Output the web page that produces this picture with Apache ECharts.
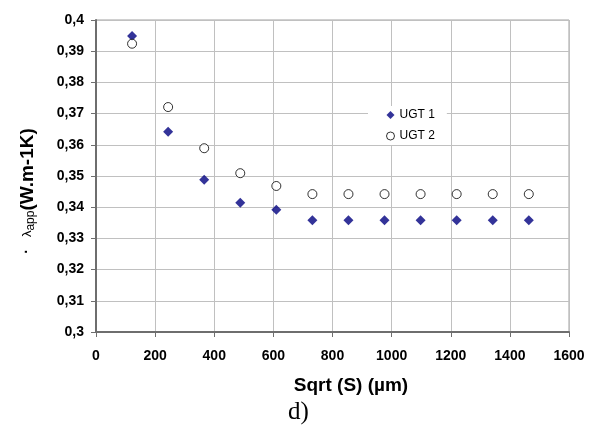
<!DOCTYPE html>
<html>
<head>
<meta charset="utf-8">
<script src="https://cdn.jsdelivr.net/npm/echarts@6/dist/echarts.min.js"></script>
<style>
html,body{margin:0;padding:0;background:#fff;}
#c{width:595px;height:427px;}
</style>
</head>
<body>
<div id="c"></div>
<script>
const sqrtS = [122, 244, 366, 488, 610, 732, 854, 976, 1098, 1220, 1342, 1464];
const ugt1 = [0.3949, 0.3642, 0.3488, 0.3414, 0.3392, 0.3358, 0.3358, 0.3358, 0.3358, 0.3358, 0.3358, 0.3358];
const ugt2 = [0.3924, 0.3721, 0.3589, 0.3509, 0.3468, 0.3442, 0.3442, 0.3442, 0.3442, 0.3442, 0.3442, 0.3442];
const seriesNames = ['UGT 1', 'UGT 2'];
const xTitle = 'Sqrt (S) (µm)';
const caption = 'd)';

const chart = echarts.init(document.getElementById('c'), null, {renderer: 'canvas'});
const font = 'Arial, "Liberation Sans", sans-serif';
chart.setOption({
  animation: false,
  backgroundColor: '#fff',
  grid: {left: 96, right: 26, top: 20, bottom: 95, show: true, borderColor: '#a0a0a0', borderWidth: 1, containLabel: false},
  legend: {
    orient: 'vertical', left: 368, top: 106,
    padding: [3, 12, 3, 18], itemGap: 9,
    backgroundColor: '#fff',
    itemWidth: 8, itemHeight: 8,
    textStyle: {fontFamily: font, fontSize: 12, color: '#000'},
    data: [
      {name: seriesNames[0]},
      {name: seriesNames[1], itemStyle: {color: '#fff', borderColor: '#000', borderWidth: 1}}
    ]
  },
  xAxis: {
    type: 'value', min: 0, max: 1600, interval: 200,
    name: xTitle, nameLocation: 'middle', nameGap: 44,
    nameTextStyle: {fontFamily: font, fontSize: 19, fontWeight: 'bold', color: '#000', padding: [0, 0, 0, 37]},
    axisLine: {show: true, lineStyle: {color: '#6e6e6e', width: 2}},
    axisTick: {show: true, inside: false, length: 5, lineStyle: {color: '#6e6e6e'}},
    axisLabel: {fontFamily: font, fontSize: 14, fontWeight: 'bold', color: '#000', margin: 17,
      formatter: v => String(v)},
    splitLine: {show: true, lineStyle: {color: '#c0c0c0', width: 1}}
  },
  yAxis: {
    type: 'value', min: 0.3, max: 0.4, interval: 0.01,
    name: '{d|·}{l|λ}{s|app}{b|(W.m-1K)}', nameLocation: 'middle', nameGap: 59, nameRotate: 90,
    nameTextStyle: {
      padding: [0, 30, 0, 0],
      rich: {
        d: {fontFamily: font, fontSize: 14, fontWeight: 'bold', color: '#000', padding: [0, 12, 0, 0]},
        l: {fontFamily: font, fontSize: 13, color: '#000'},
        s: {fontFamily: font, fontSize: 12, color: '#000', verticalAlign: 'bottom', padding: [5, 0, 0, 0]},
        b: {fontFamily: font, fontSize: 19, fontWeight: 'bold', color: '#000'}
      }
    },
    axisLine: {show: true, lineStyle: {color: '#6e6e6e', width: 2}},
    axisTick: {show: true, inside: false, length: 5, lineStyle: {color: '#6e6e6e'}},
    axisLabel: {
      fontFamily: font, fontSize: 14, fontWeight: 'bold', color: '#000', margin: 12,
      formatter: v => String(+v.toFixed(2)).replace('.', ',')
    },
    splitLine: {show: true, lineStyle: {color: '#c0c0c0', width: 1}}
  },
  graphic: [{
    type: 'text', left: 288, top: 400,
    style: {text: caption, fontFamily: '"Times New Roman", "Liberation Serif", serif', fontSize: 25, fill: '#000'}
  }],
  series: [
    {
      name: seriesNames[0], type: 'scatter', symbol: 'diamond', symbolSize: 10,
      itemStyle: {color: '#000080'},
      data: sqrtS.map((x, i) => [x, ugt1[i]])
    },
    {
      name: seriesNames[1], type: 'scatter', symbol: 'circle', symbolSize: 9,
      itemStyle: {color: '#fff', borderColor: '#000', borderWidth: 1},
      data: sqrtS.map((x, i) => [x, ugt2[i]])
    }
  ]
});
</script>
</body>
</html>
